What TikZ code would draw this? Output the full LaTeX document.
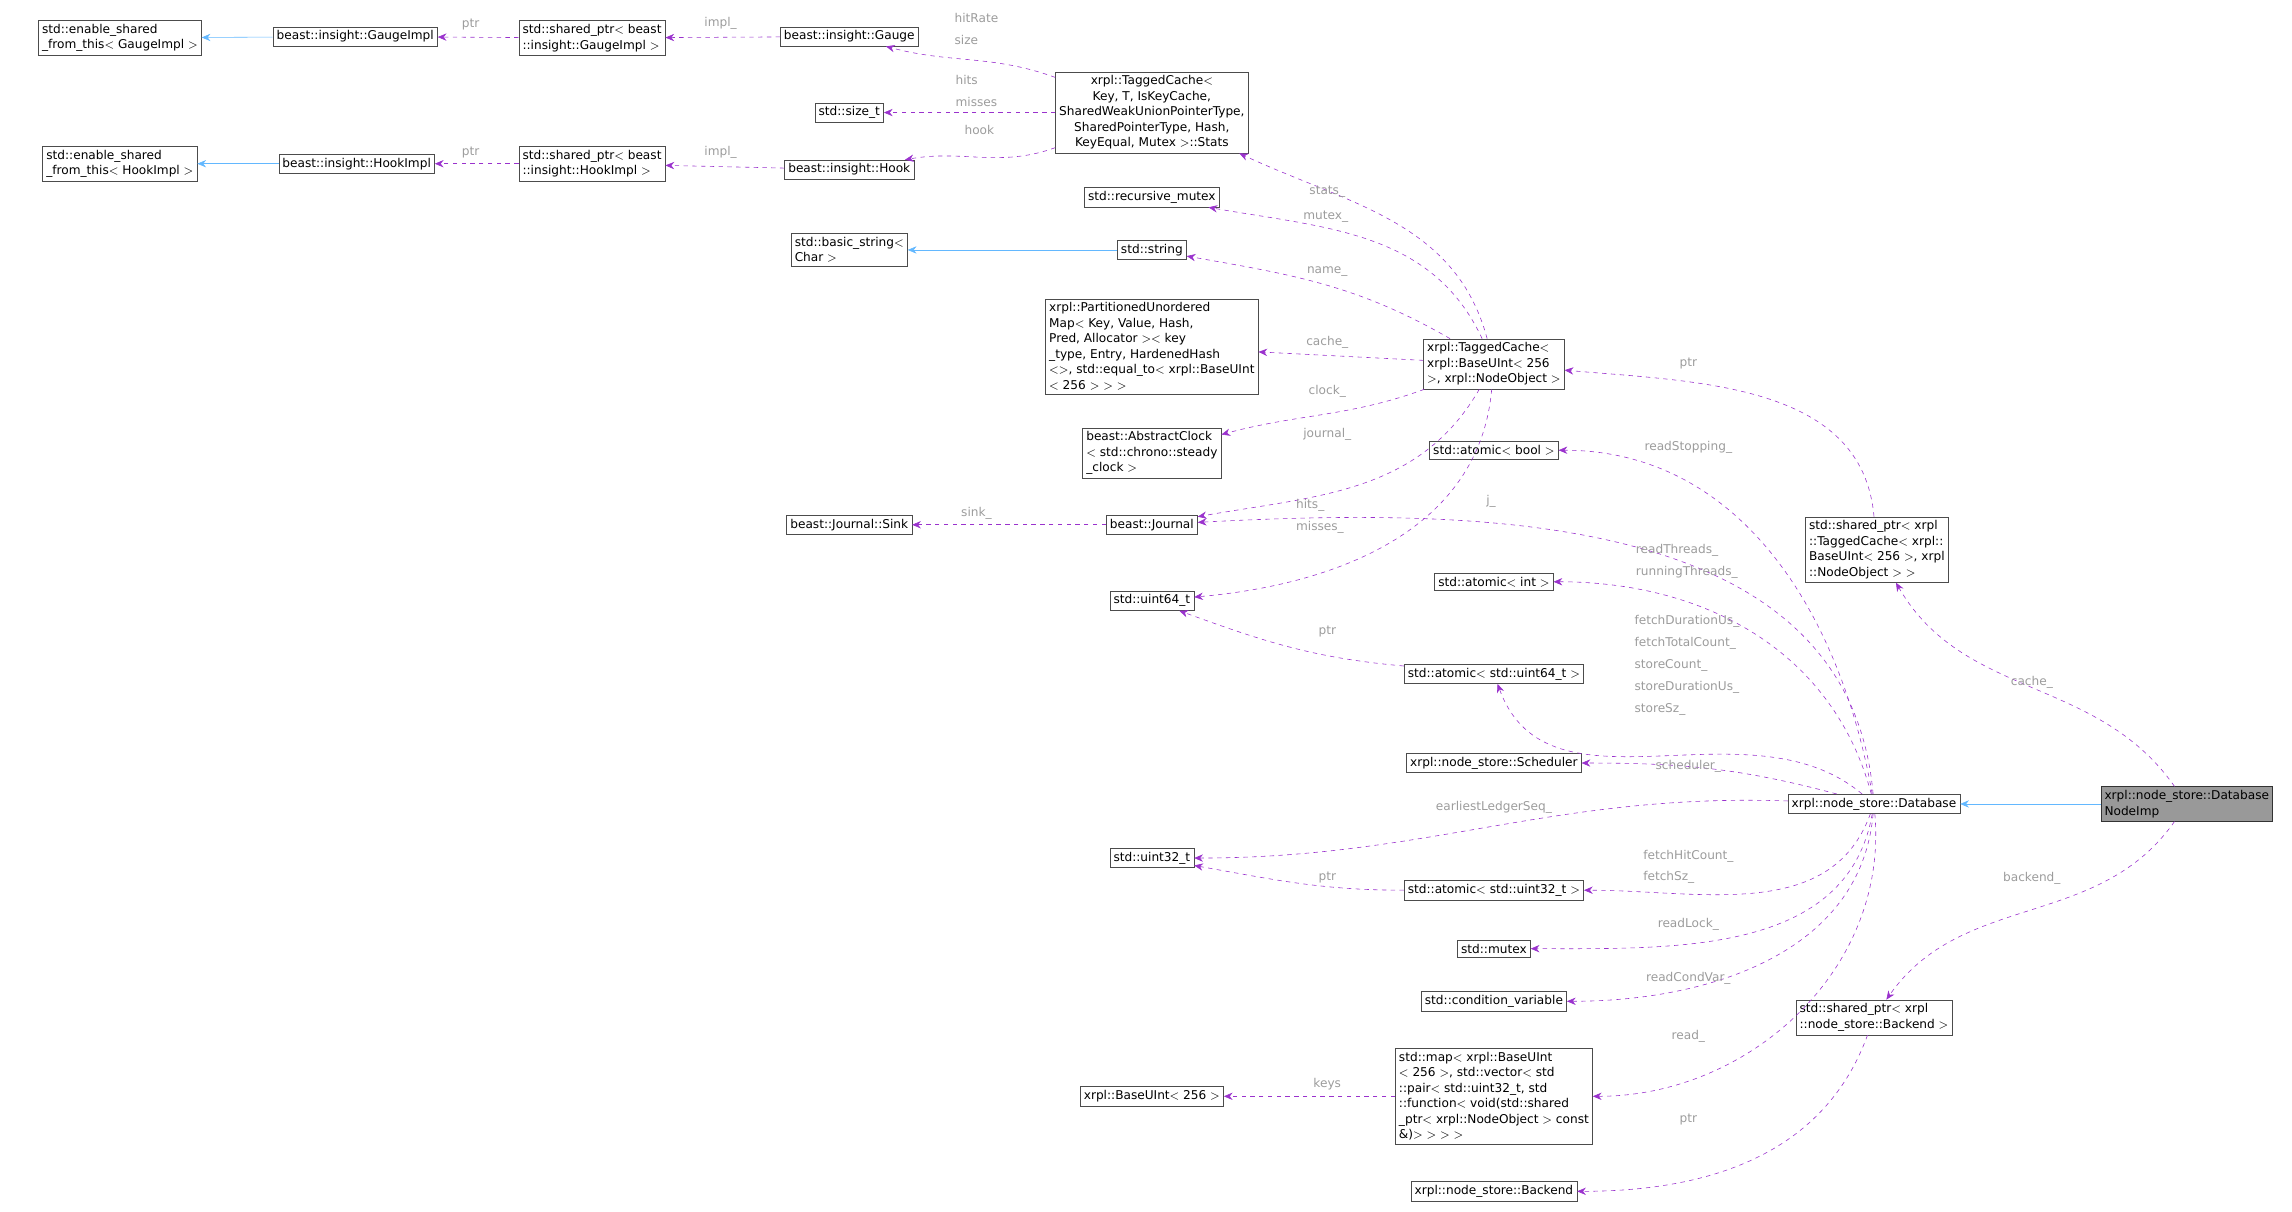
\documentclass[tikz,border=0pt]{standalone}
\usepackage{fontspec}
\setmainfont{DejaVu Sans}
\usetikzlibrary{arrows.meta}
\definecolor{depcol}{HTML}{9A32CD}
\definecolor{inhcol}{HTML}{63B8FF}
\definecolor{lblcol}{HTML}{9C9C9C}
\begin{document}
\begin{tikzpicture}
		[x=1pt, y=-1pt,
		 cls/.style={draw=black!70, fill=white, font=\fontsize{8.3}{10.6}\selectfont, inner sep=2.5pt, align=center},
		 clsl/.style={cls, align=left},
		 dep/.style={draw=depcol, dashed, -{Stealth[length=6pt,width=5pt]}},
		 inh/.style={draw=inhcol, -{Stealth[length=6pt,width=5pt]}},
		 lbl/.style={text=lblcol, font=\fontsize{8.3}{15}\selectfont, inner sep=0pt, align=center}]
		\useasboundingbox (0,0) rectangle (1568,829);

		% classes
		\node[clsl] (esg) at (82,26) {std::enable\_shared\\\_from\_this$<$ GaugeImpl $>$};
		\node[cls] (gimpl) at (243,25) {beast::insight::GaugeImpl};
		\node[clsl] (spg) at (405,26) {std::shared\_ptr$<$ beast\\::insight::GaugeImpl $>$};
		\node[cls] (gauge) at (581,25) {beast::insight::Gauge};
		\node[cls] (stats) at (788,77) {xrpl::TaggedCache$<$\\ Key, T, IsKeyCache,\\SharedWeakUnionPointerType,\\SharedPointerType, Hash,\\ KeyEqual, Mutex $>$::Stats};
		\node[cls] (sizet) at (581,77) {std::size\_t};
		\node[clsl] (esh) at (82,112) {std::enable\_shared\\\_from\_this$<$ HookImpl $>$};
		\node[cls] (himpl) at (244,112) {beast::insight::HookImpl};
		\node[clsl] (sph) at (405,112) {std::shared\_ptr$<$ beast\\::insight::HookImpl $>$};
		\node[cls] (hook) at (581,116) {beast::insight::Hook};
		\node[cls] (rmutex) at (788,135) {std::recursive\_mutex};
		\node[clsl] (bstr) at (581,171) {std::basic\_string$<$\\Char $>$};
		\node[cls] (str) at (788,171) {std::string};
		\node[clsl] (pmap) at (788,237) {xrpl::PartitionedUnordered\\Map$<$ Key, Value, Hash,\\ Pred, Allocator $>$$<$ key\\\_type, Entry, HardenedHash\\$<$$>$, std::equal\_to$<$ xrpl::BaseUInt\\$<$ 256 $>$ $>$ $>$};
		\node[clsl] (tc) at (1022,249) {xrpl::TaggedCache$<$\\ xrpl::BaseUInt$<$ 256\\ $>$, xrpl::NodeObject $>$};
		\node[clsl] (clock) at (788,310) {beast::AbstractClock\\$<$ std::chrono::steady\\\_clock $>$};
		\node[cls] (abool) at (1022,308) {std::atomic$<$ bool $>$};
		\node[cls] (sink) at (581,359) {beast::Journal::Sink};
		\node[cls] (journal) at (788,359) {beast::Journal};
		\node[clsl] (sptc) at (1284,376) {std::shared\_ptr$<$ xrpl\\::TaggedCache$<$ xrpl::\\BaseUInt$<$ 256 $>$, xrpl\\::NodeObject $>$ $>$};
		\node[cls] (aint) at (1022,398) {std::atomic$<$ int $>$};
		\node[cls] (u64) at (788,411) {std::uint64\_t};
		\node[cls] (a64) at (1022,461) {std::atomic$<$ std::uint64\_t $>$};
		\node[cls] (sched) at (1022,522) {xrpl::node\_store::Scheduler};
		\node[cls] (db) at (1282,550) {xrpl::node\_store::Database};
		\node[clsl, fill=black!40, draw=black!80] (dni) at (1496,550) {xrpl::node\_store::Database\\NodeImp};
		\node[cls] (u32) at (788,587) {std::uint32\_t};
		\node[cls] (a32) at (1022,609) {std::atomic$<$ std::uint32\_t $>$};
		\node[cls] (mtx) at (1022,649) {std::mutex};
		\node[cls] (cv) at (1022,685) {std::condition\_variable};
		\node[clsl] (spb) at (1282,696) {std::shared\_ptr$<$ xrpl\\::node\_store::Backend $>$};
		\node[clsl] (smap) at (1022,750) {std::map$<$ xrpl::BaseUInt\\$<$ 256 $>$, std::vector$<$ std\\::pair$<$ std::uint32\_t, std\\::function$<$ void(std::shared\\\_ptr$<$ xrpl::NodeObject $>$ const\\\&)$>$ $>$ $>$ $>$};
		\node[cls] (buint) at (788,750) {xrpl::BaseUInt$<$ 256 $>$};
		\node[cls] (backend) at (1022,815) {xrpl::node\_store::Backend};

		% inheritance
		\draw[inh] (gimpl) -- (esg);
		\draw[inh] (himpl) -- (esh);
		\draw[inh] (str) -- (bstr);
		\draw[inh] (dni) -- (db);

		% members
		\draw[dep] (spg) -- (gimpl);
		\draw[dep] (gauge) -- (spg);
		\draw[dep] (stats) to[out=160, in=-15] (gauge);
		\draw[dep] (stats) -- (sizet);
		\draw[dep] (stats) to[out=200, in=10] (hook);
		\draw[dep] (hook) -- (sph);
		\draw[dep] (sph) -- (himpl);
		\draw[dep] (tc) to[out=105, in=-25] (stats);
		\draw[dep] (tc) to[out=115, in=-10] (rmutex);
		\draw[dep] (tc) to[out=150, in=-10] (str);
		\draw[dep] (tc) -- (pmap);
		\draw[dep] (tc) to[out=200, in=15] (clock);
		\draw[dep] (tc) to[out=-120, in=10] (journal);
		\draw[dep] (tc) to[out=-95, in=5] (u64);
		\draw[dep] (journal) -- (sink);
		\draw[dep] (sptc) to[out=95, in=-5] (tc);
		\draw[dep] (dni) to[out=125, in=-60] (sptc);
		\draw[dep] (dni) to[out=-125, in=55] (spb);
		\draw[dep] (db) to[out=95, in=3] (journal);
		\draw[dep] (db) to[out=100, in=0] (abool);
		\draw[dep] (db) to[out=105, in=0] (aint);
		\draw[dep] (db) to[out=140, in=-70] (a64);
		\draw[dep] (a64) to[out=175, in=-20] (u64);
		\draw[dep] (db) to[out=165, in=0] (sched);
		\draw[dep] (db) to[out=178, in=0] (u32);
		\draw[dep] (a32) to[out=180, in=-10] (u32);
		\draw[dep] (db) to[out=-110, in=0] (a32);
		\draw[dep] (db) to[out=-100, in=0] (mtx);
		\draw[dep] (db) to[out=-95, in=0] (cv);
		\draw[dep] (db) to[out=-85, in=0] (smap);
		\draw[dep] (smap) -- (buint);
		\draw[dep] (spb) to[out=-110, in=0] (backend);

		% labels
		\node[lbl] (l1) at (322,17) {ptr};
		\node[lbl] (l2) at (493,16) {impl\_};
		\node[lbl, align=left] (l3) at (668,20) {hitRate\\size};
		\node[lbl, align=left] (l4) at (668,62) {hits\\misses};
		\node[lbl] (l5) at (670,89) {hook};
		\node[lbl] (l6) at (493,104) {impl\_};
		\node[lbl] (l7) at (322,104) {ptr};
		\node[lbl] (l8) at (908,131) {stats\_};
		\node[lbl] (l9) at (907,148) {mutex\_};
		\node[lbl] (l10) at (908,186) {name\_};
		\node[lbl] (l11) at (908,234) {cache\_};
		\node[lbl] (l12) at (908,268) {clock\_};
		\node[lbl] (l13) at (908,297) {journal\_};
		\node[lbl, align=left] (l14) at (903,353) {hits\_\\misses\_};
		\node[lbl] (l15) at (668,351) {sink\_};
		\node[lbl] (l16) at (1155,249) {ptr};
		\node[lbl] (l17) at (1020,343) {j\_};
		\node[lbl] (l18) at (1155,306) {readStopping\_};
		\node[lbl, align=left, anchor=west] (l19) at (1119,384) {readThreads\_\\runningThreads\_};
		\node[lbl, align=left, anchor=west] (l20) at (1118,455) {fetchDurationUs\_\\fetchTotalCount\_\\storeCount\_\\storeDurationUs\_\\storeSz\_};
		\node[lbl] (l21) at (908,432) {ptr};
		\node[lbl] (l22) at (1155,524) {scheduler\_};
		\node[lbl] (l23) at (1022,552) {earliestLedgerSeq\_};
		\node[lbl] (l24) at (908,600) {ptr};
		\node[lbl, align=left, anchor=west] (l25) at (1124,593) {fetchHitCount\_\\fetchSz\_};
		\node[lbl] (l26) at (1155,632) {readLock\_};
		\node[lbl] (l27) at (1155,669) {readCondVar\_};
		\node[lbl] (l28) at (1155,709) {read\_};
		\node[lbl] (l29) at (908,742) {keys};
		\node[lbl] (l30) at (1390,467) {cache\_};
		\node[lbl] (l31) at (1390,601) {backend\_};
		\node[lbl] (l32) at (1155,766) {ptr};
	\end{tikzpicture}
\end{document}
